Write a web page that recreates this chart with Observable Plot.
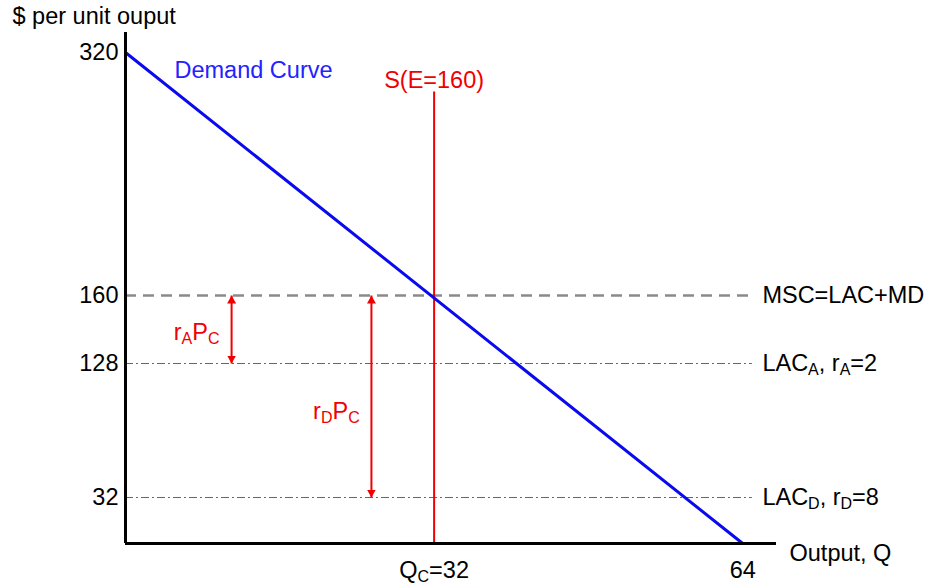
<!DOCTYPE html>
<html><head><meta charset="utf-8">
<script src="https://cdn.jsdelivr.net/npm/d3@7"></script>
<script src="https://cdn.jsdelivr.net/npm/@observablehq/plot@0.6"></script>
<style>
html,body{margin:0;padding:0;background:#fff;}
</style>
</head><body><div id="chart"></div>
<script>
// ---- data ----
const demandQ = [0, 64];
const demandP = [320, 0];
const yTickValues = [320, 160, 128, 32];
const yTickLabels = ["320", "160", "128", "32"];
const xTickValues = [32, 64];
const xTickLabels = ["Q_{C}=32", "64"];
const mscLevel = [160];
const mscLabel = ["MSC=LAC+MD"];
const lacLevels = [128, 32];
const lacLabels = ["LAC_{A}, r_{A}=2", "LAC_{D}, r_{D}=8"];
const costLineEnd = 65;
const supplyQ = [32];
const supplyTop = [294];
const supplyLabel = ["S(E=160)"];
const gapQ = [11, 25.5];
const gapTop = [160, 160];
const gapBottom = [128, 32];
const gapMid = [144, 96];
const gapLabels = ["r_{A}P_{C}", "r_{D}P_{C}"];
const yTitle = "$ per unit ouput";
const xTitle = "Output, Q";
const demandLabel = "Demand Curve";

// ---- style ----
const FS = 23.5, SUB = 16, SHIFT = 4;
const red = "#f00000", blue = "#0a0aee", blueText = "#2323ff";
const font = "'Liberation Sans', Arial, Helvetica, sans-serif";

const tri = (color) => {
  const m = d3.create("svg:marker")
    .attr("viewBox", "0 -4.5 8 9").attr("refX", 8).attr("refY", 0)
    .attr("markerWidth", 8).attr("markerHeight", 9)
    .attr("markerUnits", "userSpaceOnUse")
    .attr("orient", "auto-start-reverse");
  m.append("path").attr("d", "M0,-4.5L8,0L0,4.5Z").attr("fill", color).attr("stroke", "none");
  return m.node();
};

const idx = (a) => a.map((_, i) => i);
const T = {fontSize: FS, lineAnchor: "middle"};

const chart = Plot.plot({
  width: 928, height: 587,
  marginLeft: 125, marginRight: 152, marginTop: 32, marginBottom: 44,
  style: {fontFamily: font, fontSize: FS + "px", background: "#fff", color: "#000"},
  x: {domain: [0, 67.5], axis: null},
  y: {type: "linear", domain: [0, 32, 128, 160, 320, 333], range: [543, 497, 363, 295, 52, 32], axis: null},
  marks: [
    // cost lines
    Plot.ruleY(mscLevel, {y: d => d, x1: 0, x2: costLineEnd, stroke: "#8a8a8a", strokeWidth: 2.5, strokeDasharray: "11,7"}),
    Plot.ruleY(lacLevels, {y: d => d, x1: 0, x2: costLineEnd, stroke: "#666", strokeWidth: 1, strokeDasharray: "8,3,2,3"}),
    Plot.text(mscLevel, {...T, y: d => d, x: costLineEnd, text: (d, i) => mscLabel[i], dx: 10, textAnchor: "start", fill: "#000"}),
    Plot.text(lacLevels, {...T, y: d => d, x: costLineEnd, text: (d, i) => lacLabels[i], dx: 10, textAnchor: "start", fill: "#000"}),
    // supply
    Plot.ruleX(supplyQ, {x: d => d, y1: 0, y2: (d, i) => supplyTop[i], stroke: red, strokeWidth: 2}),
    Plot.text(supplyQ, {...T, x: d => d, y: (d, i) => supplyTop[i], text: (d, i) => supplyLabel[i], dy: -12, fill: red}),
    // demand
    Plot.line(idx(demandQ), {x: i => demandQ[i], y: i => demandP[i], stroke: blue, strokeWidth: 3}),
    Plot.text([demandLabel], {...T, x: demandQ[0], y: demandP[0], text: d => d, dx: 49, dy: 18, textAnchor: "start", fill: blueText}),
    // gap arrows
    Plot.link(idx(gapQ), {x1: i => gapQ[i], x2: i => gapQ[i], y1: i => gapTop[i], y2: i => gapBottom[i], stroke: red, strokeWidth: 2, markerStart: tri, markerEnd: tri}),
    Plot.text(idx(gapQ), {...T, x: i => gapQ[i], y: i => gapMid[i], text: i => gapLabels[i], dx: -35, dy: 3, fill: red}),
    // axes
    Plot.ruleX([0], {stroke: "#000", strokeWidth: 3}),
    Plot.ruleY([0], {stroke: "#000", strokeWidth: 3}),
    Plot.text(yTickValues, {...T, y: d => d, text: (d, i) => yTickLabels[i], frameAnchor: "left", dx: -7, textAnchor: "end", fill: "#000"}),
    Plot.text(xTickValues, {...T, x: d => d, text: (d, i) => xTickLabels[i], frameAnchor: "bottom", dy: 27, fill: "#000"}),
    Plot.text([yTitle], {...T, text: d => d, frameAnchor: "top-left", dx: -113, dy: -16, textAnchor: "start", fill: "#000"}),
    Plot.text([xTitle], {...T, text: d => d, frameAnchor: "bottom-right", dx: 13, dy: 10, textAnchor: "start", fill: "#000"})
  ]
});

function applySubscripts(svg) {
  svg.querySelectorAll("text").forEach(t => {
    const s = t.textContent;
    if (!s.includes("_{")) return;
    const parts = s.split(/(_\{[^}]*\})/).filter(p => p.length);
    t.textContent = "";
    let shifted = false;
    for (const p of parts) {
      const ts = document.createElementNS("http://www.w3.org/2000/svg", "tspan");
      const m = p.match(/^_\{([^}]*)\}$/);
      if (m) {
        ts.textContent = m[1];
        ts.setAttribute("font-size", SUB);
        if (!shifted) ts.setAttribute("dy", SHIFT);
        shifted = true;
      } else {
        ts.textContent = p;
        if (shifted) { ts.setAttribute("dy", -SHIFT); shifted = false; }
      }
      t.appendChild(ts);
    }
  });
}
applySubscripts(chart);
document.getElementById("chart").appendChild(chart);
</script>
</body></html>
